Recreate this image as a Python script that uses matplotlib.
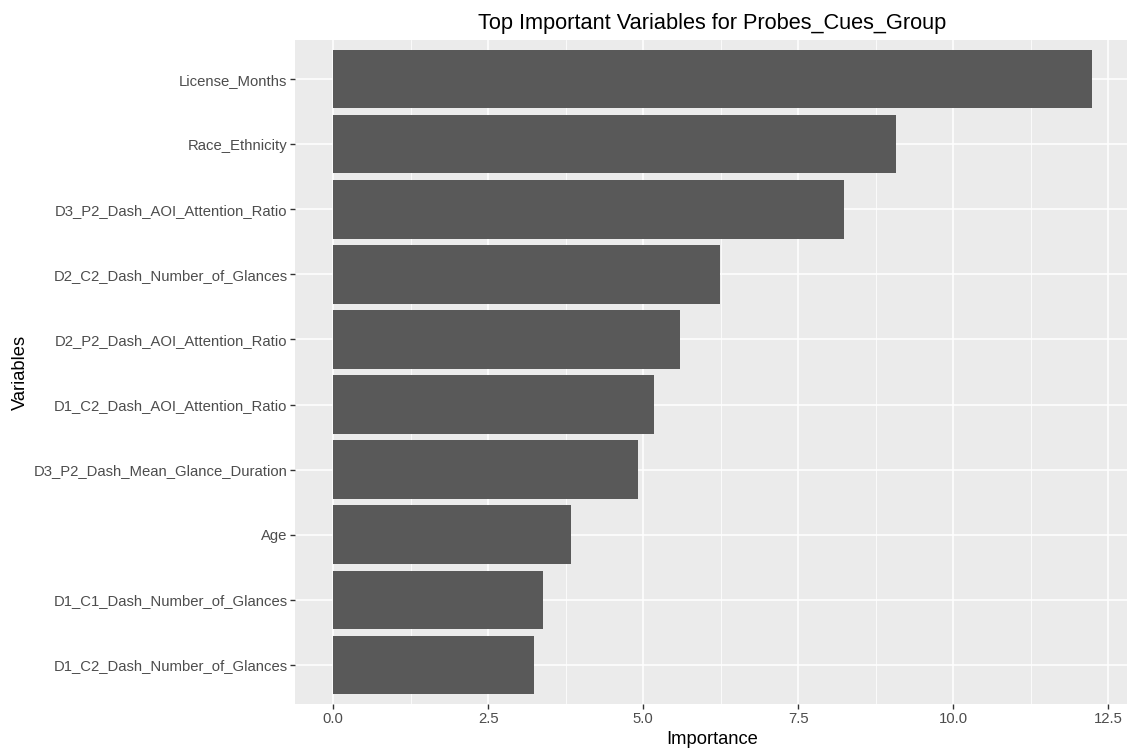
import matplotlib.pyplot as plt
import numpy as np

# variables and their importance, top bar first
variables = ['License_Months', 'Race_Ethnicity', 'D3_P2_Dash_AOI_Attention_Ratio',
             'D2_C2_Dash_Number_of_Glances', 'D2_P2_Dash_AOI_Attention_Ratio',
             'D1_C2_Dash_AOI_Attention_Ratio', 'D3_P2_Dash_Mean_Glance_Duration',
             'Age', 'D1_C1_Dash_Number_of_Glances', 'D1_C2_Dash_Number_of_Glances']
importance = [12.24, 9.08, 8.23, 6.24, 5.60, 5.18, 4.92, 3.83, 3.38, 3.24]
xticks = [0.0, 2.5, 5.0, 7.5, 10.0, 12.5]

plt.rcParams['font.family'] = ['Liberation Sans', 'DejaVu Sans']

fig = plt.figure(figsize=(11.27, 7.53), dpi=100)
ax = fig.add_axes([0.2618, 0.0651, 0.741, 0.8818])
ax.set_facecolor('#EBEBEB')

# bottom-up positions so the largest is on top
ypos = np.arange(len(variables), 0, -1)
ax.barh(ypos, importance, height=0.9, color='#595959', zorder=3)

ax.set_xlim(-0.612, 12.85)
ax.set_ylim(0.4, len(variables) + 0.6)

# grid: major and minor
ax.set_xticks(xticks)
ax.set_xticklabels(['%.1f' % t for t in xticks])
ax.set_xticks([1.25, 3.75, 6.25, 8.75, 11.25], minor=True)
ax.set_yticks(ypos)
ax.set_yticklabels(variables)
ax.grid(which='major', color='white', linewidth=1.1, zorder=1)
ax.grid(which='minor', axis='x', color='white', linewidth=0.55, zorder=1)

for s in ax.spines.values():
    s.set_visible(False)
ax.tick_params(which='major', length=3.5, width=1, color='#333333',
               labelcolor='#4D4D4D', labelsize=10.7, pad=2)
ax.tick_params(which='minor', length=0)

ax.set_xlabel('Importance', fontsize=13.2, color='black', labelpad=4)
ax.set_ylabel('Variables', fontsize=13.2, color='black', labelpad=3)
ax.set_title('Top Important Variables for Probes_Cues_Group', fontsize=15.7, pad=8)

fig.savefig('out.png', dpi=100)
